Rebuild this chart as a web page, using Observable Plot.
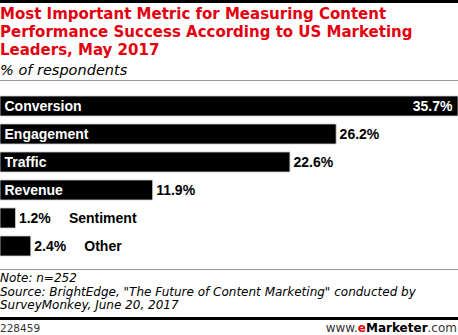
<!DOCTYPE html>
<html><head><meta charset="utf-8">
<script src="https://cdn.jsdelivr.net/npm/d3@7"></script>
<script src="https://cdn.jsdelivr.net/npm/@observablehq/plot@0.6"></script>
<style>
html,body{margin:0;padding:0;background:#fff;}
#wrap{position:relative;width:458px;height:335px;overflow:hidden;font-family:"DejaVu Sans",Verdana,sans-serif;}
#topbar{position:absolute;left:0;top:0;width:458px;height:3px;background:#000;}
#title{position:absolute;left:0;top:5px;width:470px;white-space:nowrap;color:#e3000f;font-weight:bold;font-size:15px;line-height:18px;}
#subtitle{position:absolute;left:0;top:61px;font-style:italic;font-size:14.5px;line-height:18px;color:#000;}
#line1{position:absolute;left:0;top:80px;width:458px;height:1px;background:#999;}
#chart{position:absolute;left:0;top:88px;}
#line2{position:absolute;left:0;top:269px;width:458px;height:1px;background:#999;}
#foot{position:absolute;left:0;top:272px;font-style:italic;font-size:12px;line-height:13.5px;color:#000;white-space:nowrap;}
#line3{position:absolute;left:0;top:317px;width:458px;height:3px;background:#000;}
#id{position:absolute;left:0;top:322px;font-size:10.5px;color:#333;}
#brand{position:absolute;right:1px;top:321px;font-size:12px;color:#333;}
#brand b{color:#000}
#brand .e{color:#e3000f}
</style></head>
<body><div id="wrap">
<div id="topbar"></div>
<div id="title">Most Important Metric for Measuring Content<br>Performance Success According to US Marketing<br>Leaders, May 2017</div>
<div id="subtitle">% of respondents</div>
<div id="line1"></div>
<div id="chart"></div>
<div id="line2"></div>
<div id="foot">Note: n=252<br>Source: BrightEdge, "The Future of Content Marketing" conducted by<br>SurveyMonkey, June 20, 2017</div>
<div id="line3"></div>
<div id="id">228459</div>
<div id="brand">www.<b><span class="e">e</span>Marketer</b>.com</div>
</div>
<script>
const categories = ["Conversion","Engagement","Traffic","Revenue","Sentiment","Other"];
const values = [35.7, 26.2, 22.6, 11.9, 1.2, 2.4];
const valueLabels = ["35.7%","26.2%","22.6%","11.9%","1.2%","2.4%"];

const data = categories.map((c,i)=>({cat:c, v:values[i], lab:valueLabels[i]}));
const big = data.filter(d=>d.v>=10);
const small = data.filter(d=>d.v<10);
const maxV = d3.max(values);

const plot = Plot.plot({
  width:458, height:174,
  marginTop:0, marginBottom:0, marginLeft:0, marginRight:0,
  x:{domain:[0,maxV], range:[0,458], axis:null},
  y:{domain:categories, range:[5,175], padding:0, axis:null},
  style:{fontFamily:"'Liberation Sans',Arial,sans-serif", fontWeight:"bold", fontSize:"14px"},
  marks:[
    Plot.barX(data,{y:"cat", x:"v", fill:"#000", stroke:"#ccc", strokeWidth:0.8, insetTop:2, insetBottom:6}),
    Plot.text(big,{y:"cat", x:0, text:"cat", dx:4, dy:-2, textAnchor:"start", fill:"#fff"}),
    Plot.text(data.filter(d=>d.v===maxV),{y:"cat", x:"v", text:"lab", dx:-6, dy:-2, textAnchor:"end", fill:"#fff"}),
    Plot.text(data.filter(d=>d.v!==maxV),{y:"cat", x:"v", text:"lab", dx:3, dy:-2, textAnchor:"start", fill:"#000"}),
    Plot.text(small,{y:"cat", x:"v", text:"cat", dx:53, dy:-2, textAnchor:"start", fill:"#000"})
  ]
});
document.getElementById("chart").appendChild(plot);
</script>
</body></html>
